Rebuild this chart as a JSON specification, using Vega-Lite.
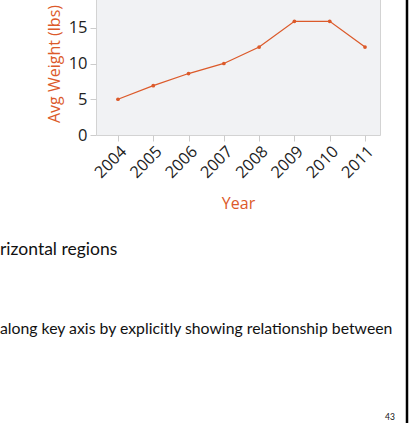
{
  "$schema": "https://vega.github.io/schema/vega-lite/v6.json",
  "width": 284,
  "height": 143,
  "autosize": {"type": "none"},
  "padding": {"left": 96, "top": -8, "right": 31, "bottom": 288},
  "background": "white",
  "config": {
    "view": {"fill": "#f1f2f4", "stroke": "#d3d3d3", "strokeWidth": 1},
    "font": "Open Sans"
  },
  "title": {
    "text": "rizontal regions",
    "subtitle": "along key axis by explicitly showing relationship between",
    "orient": "bottom",
    "anchor": "start",
    "frame": "group",
    "dx": -96,
    "offset": -183,
    "font": "Lato",
    "fontSize": 17.5,
    "fontWeight": "normal",
    "color": "#111111",
    "subtitleFont": "Lato",
    "subtitleFontSize": 15.8,
    "subtitleColor": "#111111",
    "subtitlePadding": 63
  },
  "layer": [
    {
      "data": {
        "values": [
          {"year": 2004, "weight": 5.0},
          {"year": 2005, "weight": 6.9},
          {"year": 2006, "weight": 8.6},
          {"year": 2007, "weight": 10.0},
          {"year": 2008, "weight": 12.3},
          {"year": 2009, "weight": 15.9},
          {"year": 2010, "weight": 15.9},
          {"year": 2011, "weight": 12.3}
        ]
      },
      "mark": {
        "type": "line",
        "color": "#dc5a2a",
        "strokeWidth": 1.3,
        "point": {"filled": true, "size": 14, "color": "#dc5a2a"}
      },
      "encoding": {
        "x": {
          "field": "year",
          "type": "quantitative",
          "scale": {"domain": [2003.377, 2011.425], "nice": false, "zero": false},
          "axis": {
            "values": [2004, 2005, 2006, 2007, 2008, 2009, 2010, 2011],
            "format": "d",
            "labelAngle": -45,
            "labelFontSize": 16.3,
            "labelColor": "#222222",
            "labelOverlap": false,
            "labelFont": "Open Sans",
            "tickColor": "#cccccc",
            "tickSize": 6,
            "domain": false,
            "grid": false,
            "title": "Year",
            "titleColor": "#dc5a2a",
            "titleFont": "Open Sans",
            "titleFontSize": 16,
            "titleFontWeight": "normal",
            "titlePadding": 15
          }
        },
        "y": {
          "field": "weight",
          "type": "quantitative",
          "scale": {"domain": [0, 20], "nice": false},
          "axis": {
            "values": [0, 5, 10, 15, 20],
            "labelFontSize": 16.5,
            "labelColor": "#222222",
            "labelFont": "Open Sans",
            "tickColor": "#cccccc",
            "tickSize": 6,
            "labelPadding": 3,
            "domain": false,
            "grid": false,
            "title": "Avg Weight (lbs)",
            "titleColor": "#dc5a2a",
            "titleFont": "Open Sans",
            "titleFontSize": 16,
            "titleFontWeight": "normal",
            "titlePadding": 6
          }
        }
      }
    },
    {
      "data": {"values": [{"label": "border"}]},
      "mark": {"type": "rule", "color": "#000000", "strokeWidth": 2.5},
      "encoding": {
        "x": {"value": 311},
        "y": {"value": -10},
        "y2": {"value": 431}
      }
    },
    {
      "data": {"values": [{"label": "43"}]},
      "mark": {"type": "text", "font": "Lato", "fontSize": 8.5, "color": "#111111", "align": "left", "baseline": "alphabetic"},
      "encoding": {
        "text": {"field": "label"},
        "x": {"value": 289},
        "y": {"value": 428}
      }
    }
  ]
}
